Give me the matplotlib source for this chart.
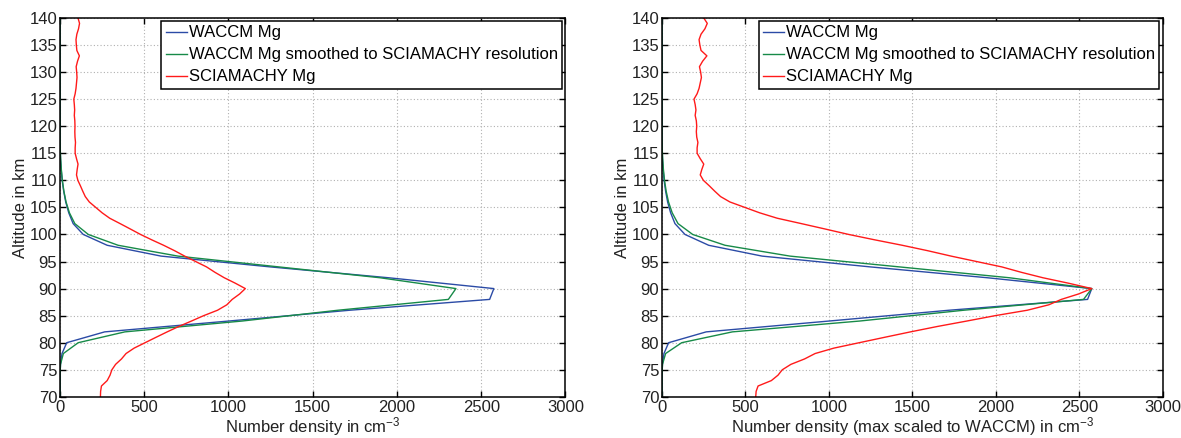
import matplotlib
matplotlib.use("Agg")
import matplotlib.pyplot as plt
import numpy as np

plt.rcParams["font.family"] = ["Liberation Sans", "DejaVu Sans"]
plt.rcParams["mathtext.fontset"] = "custom"
plt.rcParams["mathtext.rm"] = "Liberation Sans"
plt.rcParams["mathtext.it"] = "Liberation Sans:italic"

# WACCM model grid (2 km)
waccm_alt = np.arange(70, 141, 2)
waccm_mg = [0, 0, 0, 3, 12, 40, 265, 1000, 1720, 2550, 2575, 1950, 1250, 600,
            280, 138, 78, 52, 34, 22, 13, 7, 3, 1, 0, 0, 0, 0, 0, 0, 0, 0, 0, 0,
            0, 0]
waccm_smooth = [0, 0, 0, 3, 20, 108, 385, 1080, 1650, 2305, 2350, 1900, 1300,
                700, 345, 168, 88, 56, 36, 23, 14, 8, 4, 1, 0, 0, 0, 0, 0, 0, 0,
                0, 0, 0, 0, 0]

# SCIAMACHY retrieval grid (1 km)
scia_alt = np.arange(70, 141, 1)
scia_mg = [240, 241, 246, 280, 297, 308, 330, 365, 392, 440,
           505, 570, 636, 705, 780, 853, 935, 990, 1022, 1066,
           1100, 1040, 975, 920, 870, 805, 740, 680, 615, 545,
           478, 418, 357, 295, 250, 212, 174, 150, 135, 121,
           106, 98, 102, 107, 98, 90, 90, 92, 89, 88,
           89, 88, 85, 87, 85, 82, 90, 95, 98, 101,
           99, 96, 104, 115, 100, 97, 95, 100, 110, 116,
           107]

LABELS = ["WACCM Mg", "WACCM Mg smoothed to SCIAMACHY resolution",
          "SCIAMACHY Mg"]
COLORS = ["#2b4ba6", "#178a48", "#ff1a1a"]
FS = 12


def style_axes(ax, xlabel):
    ax.set_xlim(0, 3000)
    ax.set_ylim(70, 140)
    ax.set_xticks(np.arange(0, 3001, 500))
    ax.set_yticks(np.arange(70, 141, 5))
    ax.tick_params(direction="in", top=True, right=True, labelsize=FS,
                   length=4, width=1, colors="black", labelcolor="#222222",
                   pad=2)
    ax.grid(True, linestyle=(0, (1, 2)), color="#b0b0b0", linewidth=0.8)
    for s in ax.spines.values():
        s.set_linewidth(1.1)
        s.set_color("black")
    ax.set_xlabel(xlabel, fontsize=FS, labelpad=0, color="#222222")
    ax.set_ylabel("Altitude in km", fontsize=FS, labelpad=1, color="#222222")
    leg = ax.legend(loc="upper right", fontsize=FS, fancybox=False,
                    edgecolor="black", framealpha=1, borderpad=0.25,
                    handlelength=1.3, handletextpad=0.1, labelspacing=0.42,
                    borderaxespad=0.2)
    leg.get_frame().set_linewidth(1.1)


fig = plt.figure(figsize=(11.81, 4.38), dpi=100)
ax1 = fig.add_axes([0.0508, 0.094, 0.428, 0.865])
ax2 = fig.add_axes([0.5605, 0.094, 0.424, 0.865])

ax1.plot(waccm_mg, waccm_alt, color=COLORS[0], lw=1, label=LABELS[0])
ax1.plot(waccm_smooth, waccm_alt, color=COLORS[1], lw=1, label=LABELS[1])
ax1.plot(scia_mg, scia_alt, color=COLORS[2], lw=1, label=LABELS[2])
style_axes(ax1, "Number density in cm$^{-3}$")

# right panel: profiles scaled so that their maxima equal the WACCM maximum
peak = max(waccm_mg)
smooth_scaled = np.array(waccm_smooth) * peak / max(waccm_smooth)
scia_scaled = np.array(scia_mg) * peak / max(scia_mg)

ax2.plot(waccm_mg, waccm_alt, color=COLORS[0], lw=1, label=LABELS[0])
ax2.plot(smooth_scaled, waccm_alt, color=COLORS[1], lw=1, label=LABELS[1])
ax2.plot(scia_scaled, scia_alt, color=COLORS[2], lw=1, label=LABELS[2])
style_axes(ax2, "Number density (max scaled to WACCM) in cm$^{-3}$")

fig.savefig("out.png", dpi=100)
